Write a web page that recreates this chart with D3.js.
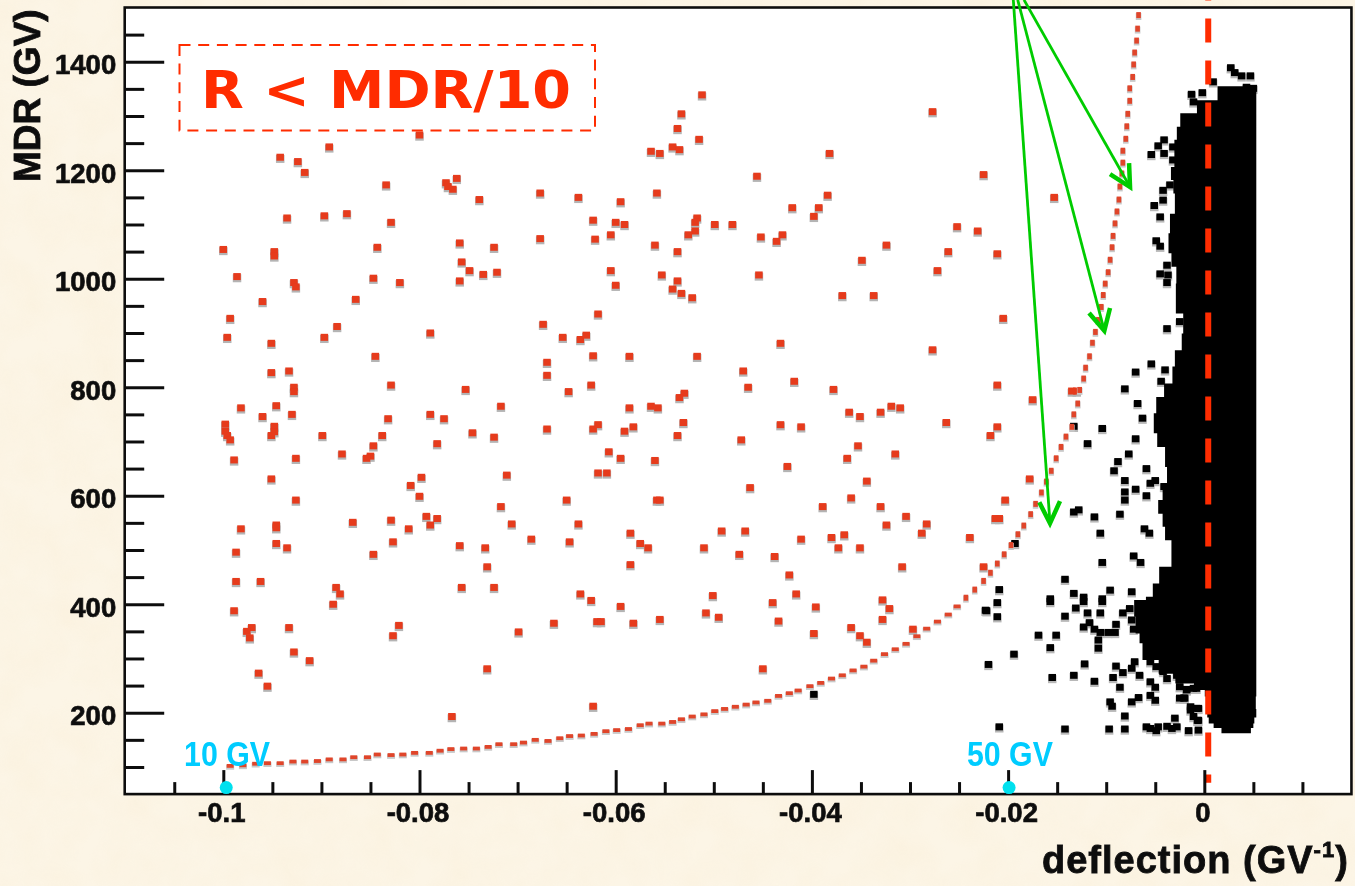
<!DOCTYPE html>
<html><head><meta charset="utf-8"><style>
html,body{margin:0;padding:0;background:#fbf3e2;overflow:hidden}
svg{display:block}
</style>
<script src="https://cdn.jsdelivr.net/npm/d3@7/dist/d3.min.js"></script></head><body>
<svg id="c" width="1355" height="886"></svg>
<script>
// [deflection (1/GV), MDR (GV)]
const redPoints=[[-.08,1265],[-.0892,1243],[-.0942,1224],[-.0924,1216],[-.0917,1196],[-.0834,1173],[-.0773,1177],[-.0771,1170],[-.0766,1165],[-.0762,1185],[-.0739,1146],[-.0677,1158],[-.0638,1150],[-.0595,1142],[-.0935,1112],[-.0897,1116],[-.0874,1120],[-.0829,1104],[-.0623,1108],[-.06,1104],[-.0605,1081],[-.0621,1073],[-.0677,1074],[-.1,1054],[-.0948,1050],[-.0948,1042],[-.0843,1058],[-.0759,1066],[-.0724,1058],[-.0757,1031],[-.0749,1015],[-.0735,1008],[-.0721,1012],[-.0759,996],[-.0605,1015],[-.06,988],[-.0986,1004],[-.0928,993],[-.0926,985],[-.0847,1001],[-.082,993],[-.096,958],[-.0865,962],[-.0993,927],[-.0618,935],[-.0674,916],[-.0884,912],
[-.0512,1339],[-.0533,1304],[-.0537,1277],[-.0515,1257],[-.0542,1243],[-.0535,1238],[-.0564,1235],[-.0555,1231],[-.0382,1231],[-.0277,1308],[-.0456,1189],[-.0225,1192],[-.0558,1158],[-.0384,1154],[-.042,1131],[-.0393,1131],[-.0398,1115],[-.0517,1112],[-.0519,1104],[-.0591,1100],[-.0499,1100],[-.0481,1100],[-.0519,1088],[-.0526,1081],[-.0452,1077],[-.043,1081],[-.0436,1069],[-.056,1062],[-.0537,1050],[-.0324,1062],[-.0349,1034],[-.0252,1096],[-.0231,1088],[-.0261,1050],[-.0211,1046],[-.0272,1015],[-.0553,1007],[-.0537,996],[-.0454,1007],[-.0542,981],[-.0533,973],[-.0522,965],[-.0369,969],[-.0337,969],[-.0205,927],[-.0153,1150],
[-.0996,892],[-.0951,881],[-.0897,892],[-.0789,900],[-.0654,892],[-.0636,888],[-.063,896],[-.0845,857],[-.067,846],[-.067,822],[-.0623,858],[-.0951,827],[-.0933,830],[-.0829,804],[-.0928,800],[-.0928,792],[-.0753,796],[-.0648,792],[-.0625,804],[-.0717,765],[-.0982,762],[-.0946,766],[-.096,746],[-.093,750],[-.0832,742],[-.0789,750],[-.0775,742],[-.0998,732],[-.0998,719],[-.0996,711],[-.0993,703],[-.0948,728],[-.0948,718],[-.0951,711],[-.0899,711],[-.0838,711],[-.0847,692],[-.085,673],[-.0854,669],[-.0879,677],[-.0782,696],[-.0746,716],[-.0724,708],[-.067,723],[-.0623,723],[-.0618,731],[-.0607,681],[-.0595,669],[-.0618,642],[-.0609,642],[-.0711,638],[-.0926,669],[-.0989,666],[-.0951,631],[-.0798,634],[-.0809,619],[-.08,599],[-.0926,592],[-.0717,580],[-.065,592],[-.0868,551],[-.0829,555],[-.0793,562],[-.0782,558],[-.0789,546],[-.0946,546],[-.0706,548],[-.0638,548],
[-.0586,857],[-.0517,857],[-.0432,881],[-.0277,869],[-.047,830],[-.0465,800],[-.0418,811],[-.0378,796],[-.0211,804],[-.0175,777],[-.053,789],[-.0535,781],[-.0586,762],[-.0564,765],[-.0557,762],[-.0362,754],[-.0351,746],[-.033,754],[-.0319,765],[-.031,762],[-.0263,735],[-.0531,735],[-.0582,727],[-.0591,719],[-.0537,711],[-.0432,731],[-.0411,727],[-.0472,703],[-.0211,727],[-.0218,711],[-.0353,692],[-.0315,677],[-.0364,669],[-.056,665],[-.0425,654],[-.0344,627],[-.0463,615],[-.0558,592],[-.0555,592],[-.036,596],[-.0389,580],[-.033,580],[-.0304,562],[-.0324,546],[-.0283,548],[-.0203,592],[-.0178,631],[-.0213,558],[-.0209,558],[-.0135,793],[-.013,793],
[-.0982,539],[-.0946,541],[-.0946,512],[-.0935,504],[-.0987,496],[-.0987,442],[-.0962,442],[-.0827,515],[-.0811,539],[-.0847,492],[-.0759,508],[-.0733,504],[-.0731,469],[-.0757,431],[-.0724,431],[-.0686,520],[-.0647,515],[-.0885,431],[-.0881,419],[-.0888,400],[-.0636,419],[-.0625,407],[-.0595,396],[-.0619,368],[-.0615,368],[-.0663,365],[-.0699,349],[-.0989,388],[-.0971,357],[-.0976,350],[-.0973,338],[-.0933,357],[-.0928,312],[-.0912,296],[-.0964,273],[-.0955,249],[-.0821,361],[-.0827,342],[-.0731,281],[-.0767,193],[-.0623,212],
[-.0585,531],[-.0575,512],[-.0567,504],[-.0585,473],[-.0492,535],[-.0468,535],[-.051,504],[-.0474,492],[-.0411,520],[-.038,523],[-.0367,528],[-.0373,504],[-.0351,504],[-.0288,531],[-.0239,523],[-.0438,488],[-.0423,454],[-.0308,469],[-.0501,416],[-.0416,419],[-.044,403],[-.0396,395],[-.0328,408],[-.0321,392],[-.0328,372],[-.0508,384],[-.0495,376],[-.0434,369],[-.0582,365],[-.0555,372],[-.036,357],[-.0351,342],[-.0344,330],[-.0398,346],[-.0297,354],[-.045,281],[-.0225,469]];
const curveLower=[[-.0993,102],[-.098,103],[-.0967,106],[-.0955,107],[-.0942,107],[-.0929,110],[-.0917,110],[-.0904,111],[-.0892,114],[-.0878,114],[-.0867,118],[-.0853,118],[-.0843,123],[-.0829,122],[-.0817,123],[-.0805,126],[-.079,126],[-.0779,130],[-.0768,133],[-.0755,134],[-.0742,134],[-.073,137],[-.0719,142],[-.0704,142],[-.0694,145],[-.0682,150],[-.0669,148],[-.0657,153],[-.0647,157],[-.0635,158],[-.0622,161],[-.061,166],[-.0599,168],[-.0587,170],[-.0575,177],[-.0566,180],[-.0553,180],[-.0542,183],[-.0533,188],[-.0522,193],[-.051,197],[-.0499,203],[-.0489,207],[-.0478,211],[-.0467,215],[-.0457,219],[-.0445,222],[-.0434,231],[-.0423,236],[-.0414,241],[-.0402,249],[-.0391,255],[-.038,263],[-.0369,269],[-.0358,278],[-.0347,285],[-.0337,296],[-.0326,308],[-.0315,317],[-.0304,327],[-.0293,341],[-.0283,355],[-.0272,368],[-.0261,381],[-.0252,396]];
const curveUpper=[[-.0243,412],[-.0234,427],[-.0225,443],[-.0218,458],[-.0211,475],[-.0204,492],[-.0197,509],[-.019,529],[-.0184,545],[-.0177,566],[-.0172,585],[-.0166,606],[-.0161,626],[-.0156,646],[-.0151,669],[-.0146,690],[-.0141,709],[-.0135,727],[-.0133,750],[-.0129,770],[-.0127,795],[-.0123,816],[-.0121,836],[-.0117,857],[-.0114,882],[-.0111,902],[-.0108,924],[-.0105,948],[-.0103,970],[-.0101,991],[-.0098,1012],[-.0096,1035],[-.0094,1058],[-.0093,1079],[-.0091,1102],[-.0089,1124],[-.0087,1146],[-.0086,1170],[-.0084,1194],[-.0083,1214],[-.0083,1236],[-.008,1258],[-.0079,1281],[-.0078,1304],[-.0076,1328],[-.0076,1351],[-.0073,1372],[-.0072,1395],[-.0071,1417],[-.0069,1439],[-.0068,1461],[-.0067,1486]];
const blackPoints=[[-.0398,234],[-.0193,512],[-.0209,427],[-.0211,403],[-.0223,389],[-.0211,377],
[.0027,1389],[.0031,1380],[.0038,1374],[.0047,1374],[.0043,1353],[.005,1351],[.0009,1363],[-.0002,1343],[-.0013,1340],[-.0011,1326],[-.0041,1256],[-.0047,1245],[-.0054,1229],[-.0041,1231],[-.0032,1243],[-.0032,1219],[-.0042,1163],[-.0035,1173],[-.0042,1145],[-.0051,1135],[-.0045,1114],[-.0049,1070],[-.0045,1060],[-.0038,1025],[-.0045,1009],[-.0037,1007],[-.0038,993],
[-.0038,908],[-.0025,921],[-.0054,843],[-.007,828],[-.004,832],[-.0044,811],[-.0081,797],[-.0068,770],[-.0063,743],[-.0104,724],[-.0133,728],[-.0119,696],[-.007,705],[-.0077,677],[-.0088,663],[-.0092,646],[-.0059,650],[-.0081,628],[-.0055,623],[-.005,628],[-.007,612],[-.0081,607],[-.0059,600],[-.0081,592],[-.0041,617],[-.0128,574],[-.0133,570],[-.0112,561],[-.0086,566],[-.0061,539],[-.0056,531],[-.0106,531],[-.0072,489],[-.0065,477],[-.0104,477],[-.0142,446],[-.0133,420],[-.0123,413],[-.0096,426],[-.0074,423],[-.0104,410],[-.0157,410],
[-.0222,388],[-.0157,405],[-.0142,378],[-.0131,393],[-.0119,384],[-.0106,384],[-.0104,405],[-.0123,405],[-.0083,384],[-.0076,392],[-.0074,371],[-.009,363],[-.0117,366],[-.0123,358],[-.0112,354],[-.0106,348],[-.0098,348],[-.0091,348],[-.0072,354],[-.0169,343],[-.0151,343],[-.0157,320],[-.0108,334],[-.0108,319],[-.0194,308],[-.022,289],[-.0122,290],[-.0133,269],[-.0155,265],[-.0112,258],[-.0093,265],[-.009,286],[-.0083,274],[-.0074,282],[-.0071,294],[-.0066,269],[-.0086,247],[-.0055,257],[-.005,247],[-.0096,220],[-.0094,212],[-.0074,220],[-.0067,228],[-.0055,232],[-.005,223],[-.0081,194],[-.0209,174],[-.0142,170],[-.0097,170],[-.0081,170],[-.0059,174],[-.0055,171],[-.0047,174],[-.0049,167],[-.0038,175],[-.0033,171],[-.0028,174],[-.003,190],[-.0016,167],[-.0006,168],[-.0007,186],[-.0014,205],[-.0006,208],[-.0025,227],[-.0018,243],[-.0008,245],[-.002,227],
[-.0055,294],[-.0049,285],[-.0038,297],[-.0033,297],[-.0042,276],[-.0028,269],[-.0021,282],[-.0014,276],[-.0025,248],[-.0018,242],[-.0011,245],[-.0021,227],[-.0014,211],[-.0008,208],[-.0011,193],[-.0006,186],[-.0038,263]];
// dense core: [MDR, left edge of the black band]
const coreEdge=[[1355,.0021],[1329,.0006],[1305,-.0021],[1280,-.0028],[1256,-.0028],[1206,-.0033],[1182,-.0035],[1157,-.0028],[1120,-.0032],[1084,-.0038],[1047,-.0035],[1022,-.0032],[991,-.0025],[967,-.0033],[936,-.0025],[899,-.0018],[868,-.0028],[838,-.0032],[807,-.0033],[782,-.0049],[752,-.0049],[715,-.0054],[690,-.0042],[653,-.0038],[623,-.0038],[592,-.0047],[567,-.0047],[543,-.0038],[518,-.0042],[494,-.0025],[469,-.0042],[438,-.005],[414,-.0055],[408,-.0064],[377,-.0079],[346,-.0061],[328,-.0071],[297,-.0055],[272,-.0038],[254,-.0021],[242,.0],[230,.0001]];
const coreRight=0.0053;
// low-rigidity end of the band: [MDR, left edge, right edge]
const coreFoot=[[236,.0002,.0053],[222,.0006,.0052],[207,.0002,.0053],[191,.0004,.0053],[180,.0005,.0049],[172,.0014,.0051],[162,.0021,.0044]];
const xDomain=[-0.11,0.015], yDomain=[50,1500];
const xMajor=[-0.1,-0.08,-0.06,-0.04,-0.02,0];
const xMinor=[-0.105,-0.095,-0.09,-0.085,-0.075,-0.07,-0.065,-0.055,-0.05,-0.045,-0.035,-0.03,-0.025,-0.015,-0.01,-0.005,0.005,0.01];
const yMajor=[200,400,600,800,1000,1200,1400];
const yMinor=[100,150,250,300,350,450,500,550,650,700,750,850,900,950,1050,1100,1150,1250,1300,1350,1450];
const xTickText=["-0.1","-0.08","-0.06","-0.04","-0.02","0"];
const markers=[{t:"10 GV",d:-0.0997,m:62,lx:-0.104},{t:"50 GV",d:-0.0199,m:62,lx:-0.0242}];
// arrows: start (above the frame), tip, two wings, as [deflection, MDR]
const arrows=[
 {s:[-.01838,1514],t:[-.00757,1169],a:[-.00961,1193],b:[-.00767,1213]},
 {s:[-.01902,1514],t:[-.01019,904],a:[-.01175,937],b:[-.00961,946]},
 {s:[-.01947,1514],t:[-.01573,549],a:[-.01682,588],b:[-.01471,590]}];
const zeroLine={d:0.0004,from:71,to:1557};

const RED="#ff2c00", INK="#101010";
const svg=d3.select("#c");
const x=d3.scaleLinear().domain(xDomain).range([125.2,1351.45]);
const y=d3.scaleLinear().domain(yDomain).range([794.1,7.5]);
const defs=svg.append("defs");
const fb=(id,s)=>defs.append("filter").attr("id",id).attr("x","-2%").attr("y","-2%").attr("width","104%").attr("height","104%").append("feGaussianBlur").attr("stdDeviation",s);
fb("soft",0.6); fb("soft2",0.4);
const tex=defs.append("filter").attr("id","paper").attr("x",0).attr("y",0).attr("width","100%").attr("height","100%");
tex.append("feTurbulence").attr("type","fractalNoise").attr("baseFrequency",0.025).attr("numOctaves",3).attr("seed",4);
tex.append("feColorMatrix").attr("type","matrix").attr("values","0 0 0 0 0.93  0 0 0 0 0.80  0 0 0 0 0.58  0.6 0 0 0 -0.18");

// paper background
svg.append("rect").attr("width",1355).attr("height",886).attr("fill","#fcf5e6");
svg.append("rect").attr("width",1355).attr("height",886).attr("filter","url(#paper)").attr("opacity",0.55);
// plot area
svg.append("rect").attr("x",x(xDomain[0])).attr("y",y(yDomain[1])).attr("width",x(xDomain[1])-x(xDomain[0])).attr("height",y(yDomain[0])-y(yDomain[1])).attr("fill","#fff");

const plot=svg.append("g").attr("filter","url(#soft2)");
function squares(g,data,w,h,fill,shadow,dy){
  g.selectAll("rect.s").data(data).join("rect").attr("class","s")
    .attr("x",d=>x(d[0])-w/2-0.5).attr("y",d=>y(d[1])-h/2+dy).attr("width",w+1).attr("height",h+1).attr("fill",shadow);
  g.selectAll("rect.m").data(data).join("rect").attr("class","m")
    .attr("x",d=>x(d[0])-w/2).attr("y",d=>y(d[1])-h/2).attr("width",w).attr("height",h).attr("fill",fill);
}
// black population
squares(plot.append("g"),blackPoints,7.5,7,"#000","#b8b8b8",1.2);
const area=d3.area().curve(d3.curveStep).y(d=>y(d[0])).x0(d=>x(d[1])).x1(()=>x(coreRight));
plot.append("path").datum(coreEdge).attr("d",area).attr("fill","#000");
const foot=d3.area().curve(d3.curveStep).y(d=>y(d[0])).x0(d=>x(d[1])).x1(d=>x(d[2]));
plot.append("path").datum(coreFoot).attr("d",foot).attr("fill","#000");
// red population and curve
squares(plot.append("g"),redPoints,7.5,7,"#e63a1c","#b4b4b4",1.2);
squares(plot.append("g"),curveLower,7,3.8,"#e0452c","#c8c8c8",0.9);
squares(plot.append("g"),curveUpper,4.6,6,"#e0452c","#c8c8c8",0.9);

// zero line
svg.append("line").attr("x1",x(zeroLine.d)).attr("x2",x(zeroLine.d)).attr("y1",y(zeroLine.to)).attr("y2",y(zeroLine.from))
  .attr("stroke",RED).attr("stroke-width",6).attr("stroke-dasharray","24 18");

// frame and ticks
const ax=svg.append("g").attr("filter","url(#soft2)");
const axB=d3.axisBottom(x).tickValues(xMajor).tickSize(-24).tickFormat((d,i)=>xTickText[i]);
const axBm=d3.axisBottom(x).tickValues(xMinor).tickSize(-12).tickFormat("");
const axL=d3.axisLeft(y).tickValues(yMajor).tickSize(-39).tickFormat(d3.format("d"));
const axLm=d3.axisLeft(y).tickValues(yMinor).tickSize(-19).tickFormat("");
[[axBm,"bottom"],[axB,"bottom"],[axLm,"left"],[axL,"left"]].forEach(([a,s])=>{
  const g=ax.append("g").attr("transform",s=="bottom"?`translate(0,${y(yDomain[0])})`:`translate(${x(xDomain[0])},0)`).call(a);
  g.select(".domain").remove();
  g.selectAll(".tick line").attr("stroke",INK).attr("stroke-width",3);
  const t=g.selectAll("text").attr("fill",INK).attr("stroke",INK).attr("stroke-width",0.7).attr("font-family","Liberation Sans").attr("font-weight","bold").attr("font-size",27.5);
  if(s=="bottom") t.attr("y",27.6).attr("dy",0).attr("dx",-2);
  else t.attr("x",-9).attr("y",2).attr("dy","0.36em").attr("text-anchor","end");
});
ax.append("rect").attr("x",x(xDomain[0])-0.5).attr("y",y(yDomain[1])).attr("width",x(xDomain[1])-x(xDomain[0])+0.5).attr("height",y(yDomain[0])-y(yDomain[1]))
  .attr("fill","none").attr("stroke",INK).attr("stroke-width",2.6);

// axis titles
const titles=svg.append("g").attr("filter","url(#soft)").attr("fill",INK).attr("stroke",INK).attr("stroke-width",0.8).attr("font-family","Liberation Sans").attr("font-weight","bold");
titles.append("text").attr("transform","translate(39.5,182) rotate(-90)").attr("font-size",37).text("MDR (GV)");
const xt=titles.append("text").attr("x",1042).attr("y",873).attr("font-size",38).attr("letter-spacing",1);
xt.append("tspan").text("deflection (GV");
xt.append("tspan").attr("font-size",22).attr("dy",-16).text("-1");
xt.append("tspan").attr("dy",16).text(")");

// annotation box
const ann=svg.append("g");
ann.append("rect").attr("x",179.5).attr("y",45).attr("width",415.5).attr("height",85.5).attr("fill","none").attr("stroke",RED).attr("stroke-width",2).attr("stroke-dasharray","11 7.7");
ann.append("text").attr("x",201).attr("y",108.3).attr("font-family","DejaVu Sans").attr("font-weight","bold").attr("font-size",52).attr("fill",RED).attr("textLength",370).attr("lengthAdjust","spacingAndGlyphs").text("R < MDR/10");

// cyan markers
markers.forEach(m=>{
  svg.append("circle").attr("cx",x(m.d)).attr("cy",y(m.m)).attr("r",6.5).attr("fill","#00e0ee");
  svg.append("text").attr("x",x(m.lx)).attr("y",765.7).attr("font-family","Liberation Sans").attr("font-weight","bold").attr("font-size",35).attr("fill","#00ccff").attr("textLength",86).attr("lengthAdjust","spacingAndGlyphs").text(m.t);
});

// green arrows
const g=svg.append("g").attr("fill","none").attr("stroke","#00cc00").attr("stroke-linecap","butt");
const ln=d3.line().x(d=>x(d[0])).y(d=>y(d[1]));
arrows.forEach(a=>{
  g.append("path").attr("d",ln([a.s,a.t])).attr("stroke-width",2.8);
  g.append("path").attr("d",ln([a.a,a.t,a.b])).attr("stroke-width",4.5).attr("stroke-linejoin","miter");
});
</script></body></html>
